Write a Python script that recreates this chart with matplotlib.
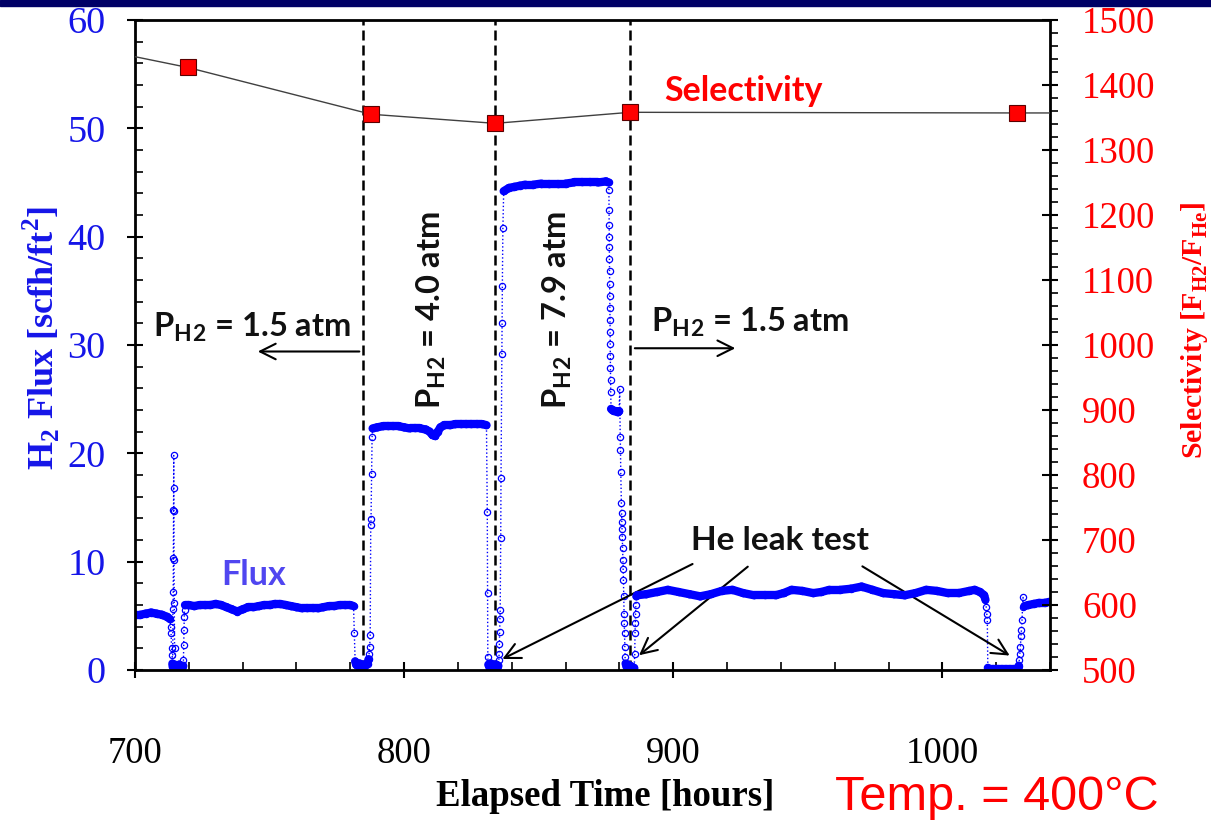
import numpy as np
import matplotlib.pyplot as plt
from matplotlib.collections import LineCollection
from matplotlib.patches import Rectangle
from matplotlib.ticker import MultipleLocator

plt.rcParams['font.family'] = ['Liberation Serif', 'DejaVu Serif']
plt.rcParams['mathtext.fontset'] = 'custom'
plt.rcParams['mathtext.rm'] = 'Liberation Serif'
plt.rcParams['mathtext.bf'] = 'Liberation Serif:bold'
plt.rcParams['mathtext.sf'] = 'Lato:bold'

# ---- flux data (hours, scfh/ft2), by run phase ----
# 1.5 atm start
t_a = [700, 702, 704, 706, 708, 710, 712, 713]
f_a = [5.1, 5.1, 5.2, 5.3, 5.2, 5.1, 4.9, 4.7]
# spike / He leak 1
t_b = [713.2, 713.4, 713.6, 713.8, 713.9, 714.0, 714.1, 714.2, 714.25, 714.3, 714.35,
       714.4, 714.45, 714.5, 714.6, 714.7, 714.8, 715.0, 715.5, 716.0, 716.5, 717.0,
       717.5, 717.9, 718.0, 718.1, 718.2, 718.3, 718.4]
f_b = [4.0, 3.4, 2.0, 1.4, 0.6, 0.3, 5.6, 7.2, 10.3, 14.8, 16.8,
       19.8, 14.7, 10.2, 6.2, 2.0, 0.5, 0.3, 0.4, 0.2, 0.5, 0.3,
       0.2, 0.4, 0.9, 2.3, 3.7, 4.9, 5.5]
t_c = [718.6, 720, 722, 724, 726, 728, 730, 732, 734, 736, 738, 740, 742, 744, 746, 748,
       750, 752, 754, 756, 758, 760, 762, 764, 766, 768, 770, 772, 774, 776, 778, 780, 781.2]
f_c = [6.0, 6.0, 5.9, 6.0, 6.0, 6.0, 6.1, 6.0, 5.8, 5.6, 5.4, 5.6, 5.8, 5.8, 5.9, 6.0,
       6.0, 6.1, 6.1, 6.0, 5.9, 5.8, 5.7, 5.7, 5.7, 5.7, 5.8, 5.9, 5.9, 6.0, 6.0, 6.0, 5.9]
# switch to 4.0 atm
t_d = [781.5, 781.8, 782.2, 782.8, 783.4, 784.0, 784.6, 785.2, 785.8, 786.4, 786.8,
       787.0, 787.2, 787.4, 787.6, 787.7, 787.9, 788.1]
f_d = [3.4, 0.8, 0.5, 0.4, 0.6, 0.4, 0.5, 0.3, 0.5, 0.6, 1.0,
       1.5, 2.1, 3.2, 13.4, 13.9, 18.1, 21.5]
t_e = [788.3, 790, 792, 794, 796, 798, 800, 802, 804, 806, 808, 809.5, 810.5, 811.5,
       812.5, 813.5, 815, 817, 819, 821, 823, 825, 827, 829, 830.6]
f_e = [22.3, 22.4, 22.5, 22.5, 22.5, 22.5, 22.4, 22.3, 22.3, 22.3, 22.2, 22.0, 21.7, 21.6,
       22.0, 22.4, 22.6, 22.6, 22.7, 22.7, 22.7, 22.7, 22.7, 22.7, 22.6]
# switch to 7.9 atm
t_f = [830.9, 831.0, 831.1, 831.3, 831.7, 832.2, 832.7, 833.2, 833.7, 834.2, 834.6,
       835.0, 835.2, 835.3, 835.4, 835.5, 835.6, 835.7, 835.9, 836.0, 836.3, 836.4,
       836.5, 836.7]
f_f = [14.6, 7.1, 1.2, 0.5, 0.3, 0.6, 0.4, 0.5, 0.3, 0.5, 0.2,
       0.4, 0.9, 1.5, 2.4, 3.5, 4.7, 5.5, 12.2, 17.7, 29.2, 32.0,
       35.4, 40.8]
t_g = [837.0, 839, 841, 843, 845, 848, 851, 854, 857, 860, 863, 866, 869, 872, 875, 876.0]
f_g = [44.2, 44.5, 44.6, 44.7, 44.8, 44.8, 44.9, 44.9, 44.9, 44.9, 45.0, 45.0, 45.0,
       45.0, 45.1, 45.0]
# back to 1.5 atm
t_h = [876.1, 876.14, 876.18, 876.22, 876.26, 876.3, 876.34, 876.38, 876.42, 876.46,
       876.5, 876.54, 876.58, 876.62, 876.66, 876.7, 876.76,
       876.9, 877.4, 877.9, 878.4, 878.9, 879.4, 879.9, 880.1,
       880.3, 880.4, 880.5, 880.7, 880.8, 880.9, 881.0, 881.1, 881.2, 881.3, 881.4,
       881.5, 881.6, 881.7, 881.8, 881.9, 882.0, 882.1, 882.3, 882.7, 883.1, 883.5,
       883.9, 884.3, 884.7, 885.1, 885.5, 885.7, 885.8, 885.9, 886.0, 886.1, 886.3]
f_h = [44.3, 42.5, 41.1, 40.0, 39.0, 37.9, 36.8, 35.6, 34.5, 33.4,
       32.3, 31.2, 30.1, 29.0, 27.9, 26.8, 25.7,
       24.1, 24.0, 23.9, 23.9, 23.9, 23.8, 23.9, 25.9,
       21.5, 20.3, 18.3, 15.4, 14.5, 13.7, 13.0, 12.3, 11.3, 10.2, 9.3,
       8.3, 6.8, 5.2, 4.3, 3.4, 2.1, 1.2, 0.6, 0.3, 0.5, 0.3,
       0.4, 0.2, 0.3, 0.1, 0.2, 1.5, 3.4, 4.3, 5.2, 6.0, 6.8]
t_i = [886.6, 890, 894, 898, 902, 906, 910, 914, 918, 922, 926, 930, 934, 938, 941, 944,
       948, 952, 955, 958, 962, 966, 970, 974, 978, 982, 986, 990, 994, 998, 1002, 1006,
       1010, 1012, 1014, 1015.5]
f_i = [6.9, 7.0, 7.2, 7.4, 7.2, 7.0, 6.8, 7.0, 7.3, 7.4, 7.1, 6.9, 6.9, 6.9, 7.1, 7.4,
       7.3, 7.1, 7.2, 7.4, 7.4, 7.5, 7.7, 7.4, 7.1, 7.0, 6.9, 7.1, 7.4, 7.3, 7.1, 7.1,
       7.3, 7.4, 7.2, 6.9]
# He leak 3
t_j = [1016.0, 1016.3, 1016.5, 1016.7, 1016.9, 1017.5, 1019, 1020.5, 1022, 1023.5, 1025,
       1026.5, 1027.5, 1028.2, 1028.4, 1028.6, 1028.8, 1029.0, 1029.2, 1029.4, 1029.6,
       1029.8, 1030.0, 1030.2]
f_j = [6.5, 5.8, 5.2, 4.6, 0.2, 0.1, 0.1, 0.1, 0.1, 0.1, 0.1,
       0.1, 0.1, 0.2, 0.4, 0.9, 1.5, 2.1, 3.1, 3.7, 4.6,
       5.8, 6.7, 5.9]
t_k = [1030.5, 1032, 1034, 1036, 1038, 1040, 1042]
f_k = [5.9, 6.0, 6.1, 6.2, 6.2, 6.3, 6.3]

# selectivity (right axis)
sel_t = [690, 719.6, 787.7, 833.8, 884.0, 1027.7, 1045]
sel_v = [1452, 1427, 1355, 1341, 1358, 1357, 1357]

# pressure change times
switch_t = [784.7, 833.8, 884.0]

t_flux = np.array(t_a + t_b + t_c + t_d + t_e + t_f + t_g + t_h + t_i + t_j + t_k)
flux = np.array(f_a + f_b + f_c + f_d + f_e + f_f + f_g + f_h + f_i + f_j + f_k)

blue = '#0000FF'
fig = plt.figure(figsize=(12.11, 8.21), dpi=100)
fig.add_artist(Rectangle((0, 1 - 6 / 821), 1, 6 / 821, transform=fig.transFigure,
                         color='#000066', zorder=10))
ax = fig.add_axes([135 / 1211, 151 / 821, 915 / 1211, 650 / 821])
ax.set_xlim(700, 1040)
ax.set_ylim(0, 60)

# dotted connecting line and open circles
ax.plot(t_flux, flux, ls=':', lw=1.0, color=blue, marker='o', ms=4.5, mfc='none',
        mec=blue, mew=0.9, zorder=3)
# steady parts look like a thick band
segs = []
for i in range(len(flux) - 1):
    if abs(flux[i + 1] - flux[i]) < 0.45:
        segs.append([(t_flux[i], flux[i]), (t_flux[i + 1], flux[i + 1])])
ax.add_collection(LineCollection(segs, colors=blue, linewidths=6, capstyle='round',
                                 zorder=4))

for xv in switch_t:
    ax.axvline(xv, color='black', ls=(0, (4, 2)), lw=1.8, zorder=2)

ax2 = ax.twinx()
ax2.set_ylim(500, 1500)
ax2.plot(sel_t, sel_v, color='#404040', lw=1.0, marker='s', ms=12, mfc='#FF0000',
         mec='#5a0000', mew=0.8, zorder=5)

# ticks
ax.set_xticks([700, 800, 900, 1000])
ax.set_yticks(range(0, 61, 10))
ax2.set_yticks(range(500, 1501, 100))
ax.xaxis.set_minor_locator(MultipleLocator(20))
ax.yaxis.set_minor_locator(MultipleLocator(2))
ax2.yaxis.set_minor_locator(MultipleLocator(20))
ax.tick_params(axis='both', which='major', direction='inout', length=12, width=1.5,
               labelsize=27.5)
ax.tick_params(axis='both', which='minor', direction='in', length=6, width=1.2)
ax.tick_params(axis='y', which='major', pad=15, labelcolor='#1515E8')
ax.tick_params(axis='x', which='major', pad=42, labelsize=26.5)
ax2.tick_params(axis='y', which='major', direction='inout', length=12, width=1.5,
                labelsize=26.5, pad=17, labelcolor='#FF0000')
ax2.tick_params(axis='y', which='minor', direction='out', length=6, width=1.2)
for sp in ax2.spines.values():
    sp.set_linewidth(2)

# annotations
ann = dict(family=['Lato', 'DejaVu Sans'], fontweight='bold', color='#111111')
p_lbl = r'P$_{\mathsf{H}}$$_{\mathsf{2}}$ = '
ax.text(706.8, 30.8, p_lbl + '1.5 atm', fontsize=23.5, ha='left', va='baseline', **ann)
ax.text(891.8, 31.3, p_lbl + '1.5 atm', fontsize=23.5, ha='left', va='baseline', **ann)
ax.text(810.0, 33.2, p_lbl + '4.0 atm', fontsize=23.5, rotation=90,
        ha='center', va='center', **ann)
ax.text(856.8, 33.2, p_lbl + '7.9 atm', fontsize=23.5, rotation=90,
        ha='center', va='center', **ann)
ax.text(939.7, 12.0, 'He leak test', fontsize=24, ha='center', va='center', **ann)
ax.text(743.9, 8.8, 'Flux', fontsize=24.5, ha='center', va='center',
        family=['Lato', 'DejaVu Sans'], fontweight='bold', color='#5046F0')
ax2.text(926.0, 1390, 'Selectivity', fontsize=24.5, ha='center', va='center',
         family=['Lato', 'DejaVu Sans'], fontweight='bold', color='#FF0000')

arrow = dict(arrowstyle='->', color='black', lw=1.5, mutation_scale=28)
ax.annotate('', xy=(744.6, 29.4), xytext=(784.4, 29.4), arrowprops=arrow)
ax.annotate('', xy=(924.1, 29.7), xytext=(884.7, 29.7), arrowprops=arrow)
ax.annotate('', xy=(835.6, 0.9), xytext=(908.1, 9.9), arrowprops=arrow)
ax.annotate('', xy=(886.5, 1.2), xytext=(928.5, 9.7), arrowprops=arrow)
ax.annotate('', xy=(1025.9, 1.2), xytext=(969.4, 9.7), arrowprops=arrow)

# axis titles
fig.text(41 / 1211, 1 - 338 / 821, r'H$_\mathbf{2}$ Flux [scfh/ft$^\mathbf{2}$]',
         rotation=90, ha='center', va='center', fontsize=26, fontweight='bold',
         color='#1515E8')
fig.text(1195 / 1211, 1 - 330 / 821, r'Selectivity [F$_\mathbf{H2}$/F$_\mathbf{He}$]',
         rotation=90, ha='center', va='center', fontsize=21.5, fontweight='bold',
         color='#FF0000')
fig.text(605 / 1211, 1 - 796 / 821, 'Elapsed Time [hours]', ha='center', va='center',
         fontsize=26.5, fontweight='bold', color='black')
fig.text(997 / 1211, 1 - 797 / 821, 'Temp. = 400\u00b0C', ha='center', va='center',
         fontsize=35, color='#FF0000', family=['Liberation Sans', 'DejaVu Sans'])

fig.savefig('out.png', dpi=100)
